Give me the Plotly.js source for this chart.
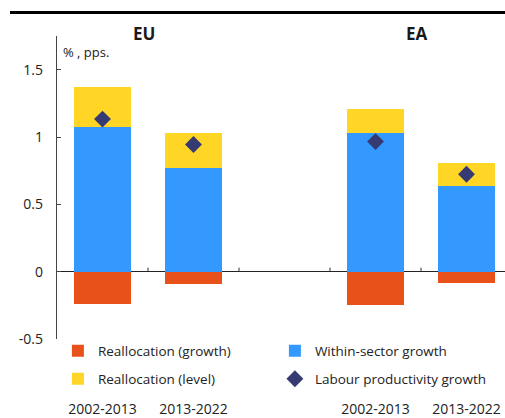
<!DOCTYPE html>
<html>
<head>
<meta charset="utf-8">
<script src="https://cdn.plot.ly/plotly-3.0.1.min.js"></script>
<style>
html,body{margin:0;padding:0;background:#fff;overflow:hidden;}
#wrap{position:relative;width:505px;height:418px;}
#chart{width:505px;height:418px;}
#rule{position:absolute;left:10px;top:11px;width:495px;height:2.5px;background:#000;z-index:5;}
</style>
</head>
<body>
<div id="wrap">
<div id="chart"></div>
<div id="rule"></div>
</div>
<script>
// ---- data ----
const groups = ["EU", "EU", "EA", "EA"];
const periods = ["2002-2013", "2013-2022", "2002-2013", "2013-2022"];
const reallocGrowth = [-0.24, -0.089, -0.245, -0.086];
const withinSector = [1.074, 0.773, 1.031, 0.639];
const reallocLevel = [0.297, 0.258, 0.179, 0.169];
const labourProd = [1.133, 0.944, 0.966, 0.723];
const yTicks = [-0.5, 0, 0.5, 1, 1.5];
const yTickText = ["-0.5", "0", "0.5", "1", "1.5"];

// positions: one empty slot between the two groups
const groupNames = [...new Set(groups)];
const xPos = groups.map((g, i) => groupNames.indexOf(g) * 3 + (i % 2));

const FONT = "Open Sans, Lato, sans-serif";
const traces = [
  {type: "bar", name: "Reallocation (growth)", x: xPos, y: reallocGrowth,
   marker: {color: "#E8521A"}, width: 0.62, legend: "legend"},
  {type: "bar", name: "Within-sector growth", x: xPos, y: withinSector,
   marker: {color: "#3399FF"}, width: 0.62, legend: "legend"},
  {type: "bar", name: "Reallocation (level)", x: xPos, y: reallocLevel,
   marker: {color: "#FFD626"}, width: 0.62, legend: "legend2"},
  {type: "scatter", mode: "markers", name: "Labour productivity growth", x: xPos, y: labourProd,
   marker: {symbol: "diamond", size: 13, color: "#353A72"}, legend: "legend2"}
];

// small tick marks on the zero line between slots (pointing up)
const shapes = [];
for (let b = 0.5; b < 4; b += 1) {
  shapes.push({type: "line", xref: "x", yref: "y", ysizemode: "pixel", yanchor: 0,
    x0: b, x1: b, y0: 0, y1: 4, line: {color: "#333", width: 1}});
}

const groupCenters = groupNames.map(g => {
  const xs = xPos.filter((_, i) => groups[i] === g);
  return xs.reduce((a, b) => a + b, 0) / xs.length;
});

const annotations = groupNames.map((g, k) => ({
  text: "<b>" + g + "</b>", xref: "x", yref: "paper", x: groupCenters[k] - 0.04, y: 1,
  yanchor: "middle", yshift: 3, showarrow: false, font: {family: FONT, size: 17, color: "#1a1a1a"}
}));
annotations.push({text: "% , pps.", xref: "x", yref: "y", x: -0.5, y: 1.75, xanchor: "left",
  yanchor: "top", xshift: 4, yshift: -5, showarrow: false, font: {family: FONT, size: 13, color: "#222"}});
annotations.push({text: "<b>Labour productivity growth</b>", xref: "paper", yref: "paper",
  x: 0.502, y: 1.091, xanchor: "right", yanchor: "bottom", showarrow: false,
  font: {family: FONT, size: 15, color: "#3F3FB8"}});

const layout = {
  width: 505, height: 418,
  margin: {l: 57, r: 0, t: 36, b: 19, pad: 0},
  paper_bgcolor: "#fff", plot_bgcolor: "#fff",
  font: {family: FONT, size: 14, color: "#222"},
  barmode: "relative",
  bargap: 0,
  showlegend: true,
  xaxis: {
    range: [-0.5, 4.423], anchor: "free", position: 0,
    tickvals: xPos, ticktext: periods, ticks: "", showline: false,
    showgrid: false, zeroline: false, tickfont: {family: FONT, size: 14, color: "#222"}
  },
  yaxis: {
    domain: [0.1653, 1], range: [-0.5, 1.75],
    tickvals: yTicks, ticktext: yTickText, ticks: "inside", ticklen: 4, tickcolor: "#444",
    showline: true, linecolor: "#444", linewidth: 1.2,
    showgrid: false, zeroline: true, zerolinecolor: "#222", zerolinewidth: 1.2,
    ticklabelstandoff: 10, tickfont: {family: FONT, size: 14, color: "#222"}
  },
  legend: {orientation: "h", x: 0.002, xanchor: "left", y: 0.132, yanchor: "middle",
    entrywidth: 172, entrywidthmode: "pixels", bgcolor: "rgba(0,0,0,0)",
    font: {family: FONT, size: 13.5, color: "#222"}},
  legend2: {orientation: "h", x: 0.002, xanchor: "left", y: 0.055, yanchor: "middle",
    entrywidth: 172, entrywidthmode: "pixels", bgcolor: "rgba(0,0,0,0)",
    font: {family: FONT, size: 13.5, color: "#222"}},
  shapes: shapes,
  annotations: annotations
};

Plotly.newPlot("chart", traces, layout, {staticPlot: true, displayModeBar: false});
</script>
</body>
</html>
